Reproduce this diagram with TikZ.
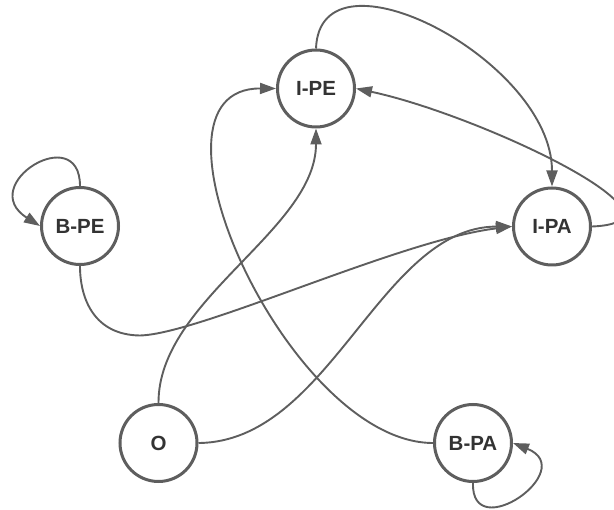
\documentclass[tikz,border=0pt]{standalone}
\usepackage{fontspec}
\setmainfont{Liberation Sans}
\usetikzlibrary{arrows.meta}
\definecolor{linegray}{HTML}{5E5E5E}
\definecolor{textgray}{HTML}{333333}
\tikzset{
  state/.style={circle, draw=linegray, line width=3pt, fill=white,
    minimum size=77pt, inner sep=0pt, text=textgray,
    font=\bfseries\fontsize{20.5}{20.5}\selectfont},
  edge/.style={draw=linegray, line width=1.9pt,
    -{Triangle[length=16pt,width=11pt]}}
}
\begin{document}
\begin{tikzpicture}[x=1pt,y=-1pt]
\useasboundingbox (0,0) rectangle (614,510);

% states
\node[state] (ipe) at (316,88.5) {I-PE};
\node[state] (ipa) at (552,226.5) {I-PA};
\node[state] (bpe) at (80,226) {B-PE};
\node[state] (o)   at (158.5,443) {O};
\node[state] (bpa) at (473,443) {B-PA};

% transitions
\draw[edge] (ipe.north) .. controls (320,-60) and (552,60) .. (ipa.north);
\draw[edge] (ipa.east) .. controls (705,222) and (480,115) .. (ipe.east);
\draw[edge] (bpe.north) .. controls (80,120) and (-25,185) .. (bpe.west);
\draw[edge] (bpe.south) .. controls (80,300) and (95,335) .. (140,335.5)
            .. controls (200,334) and (400,240) .. (ipa.west);
\draw[edge] (o.north) .. controls (158,300) and (316,230) .. (ipe.south);
\draw[edge] (o.east) .. controls (330,442) and (380,227) .. (ipa.west);
\draw[edge] (bpa.west) .. controls (288,443) and (128,88) .. (ipe.west);
\draw[edge] (bpa.south) .. controls (471,546) and (580,470) .. (bpa.east);
\end{tikzpicture}
\end{document}
